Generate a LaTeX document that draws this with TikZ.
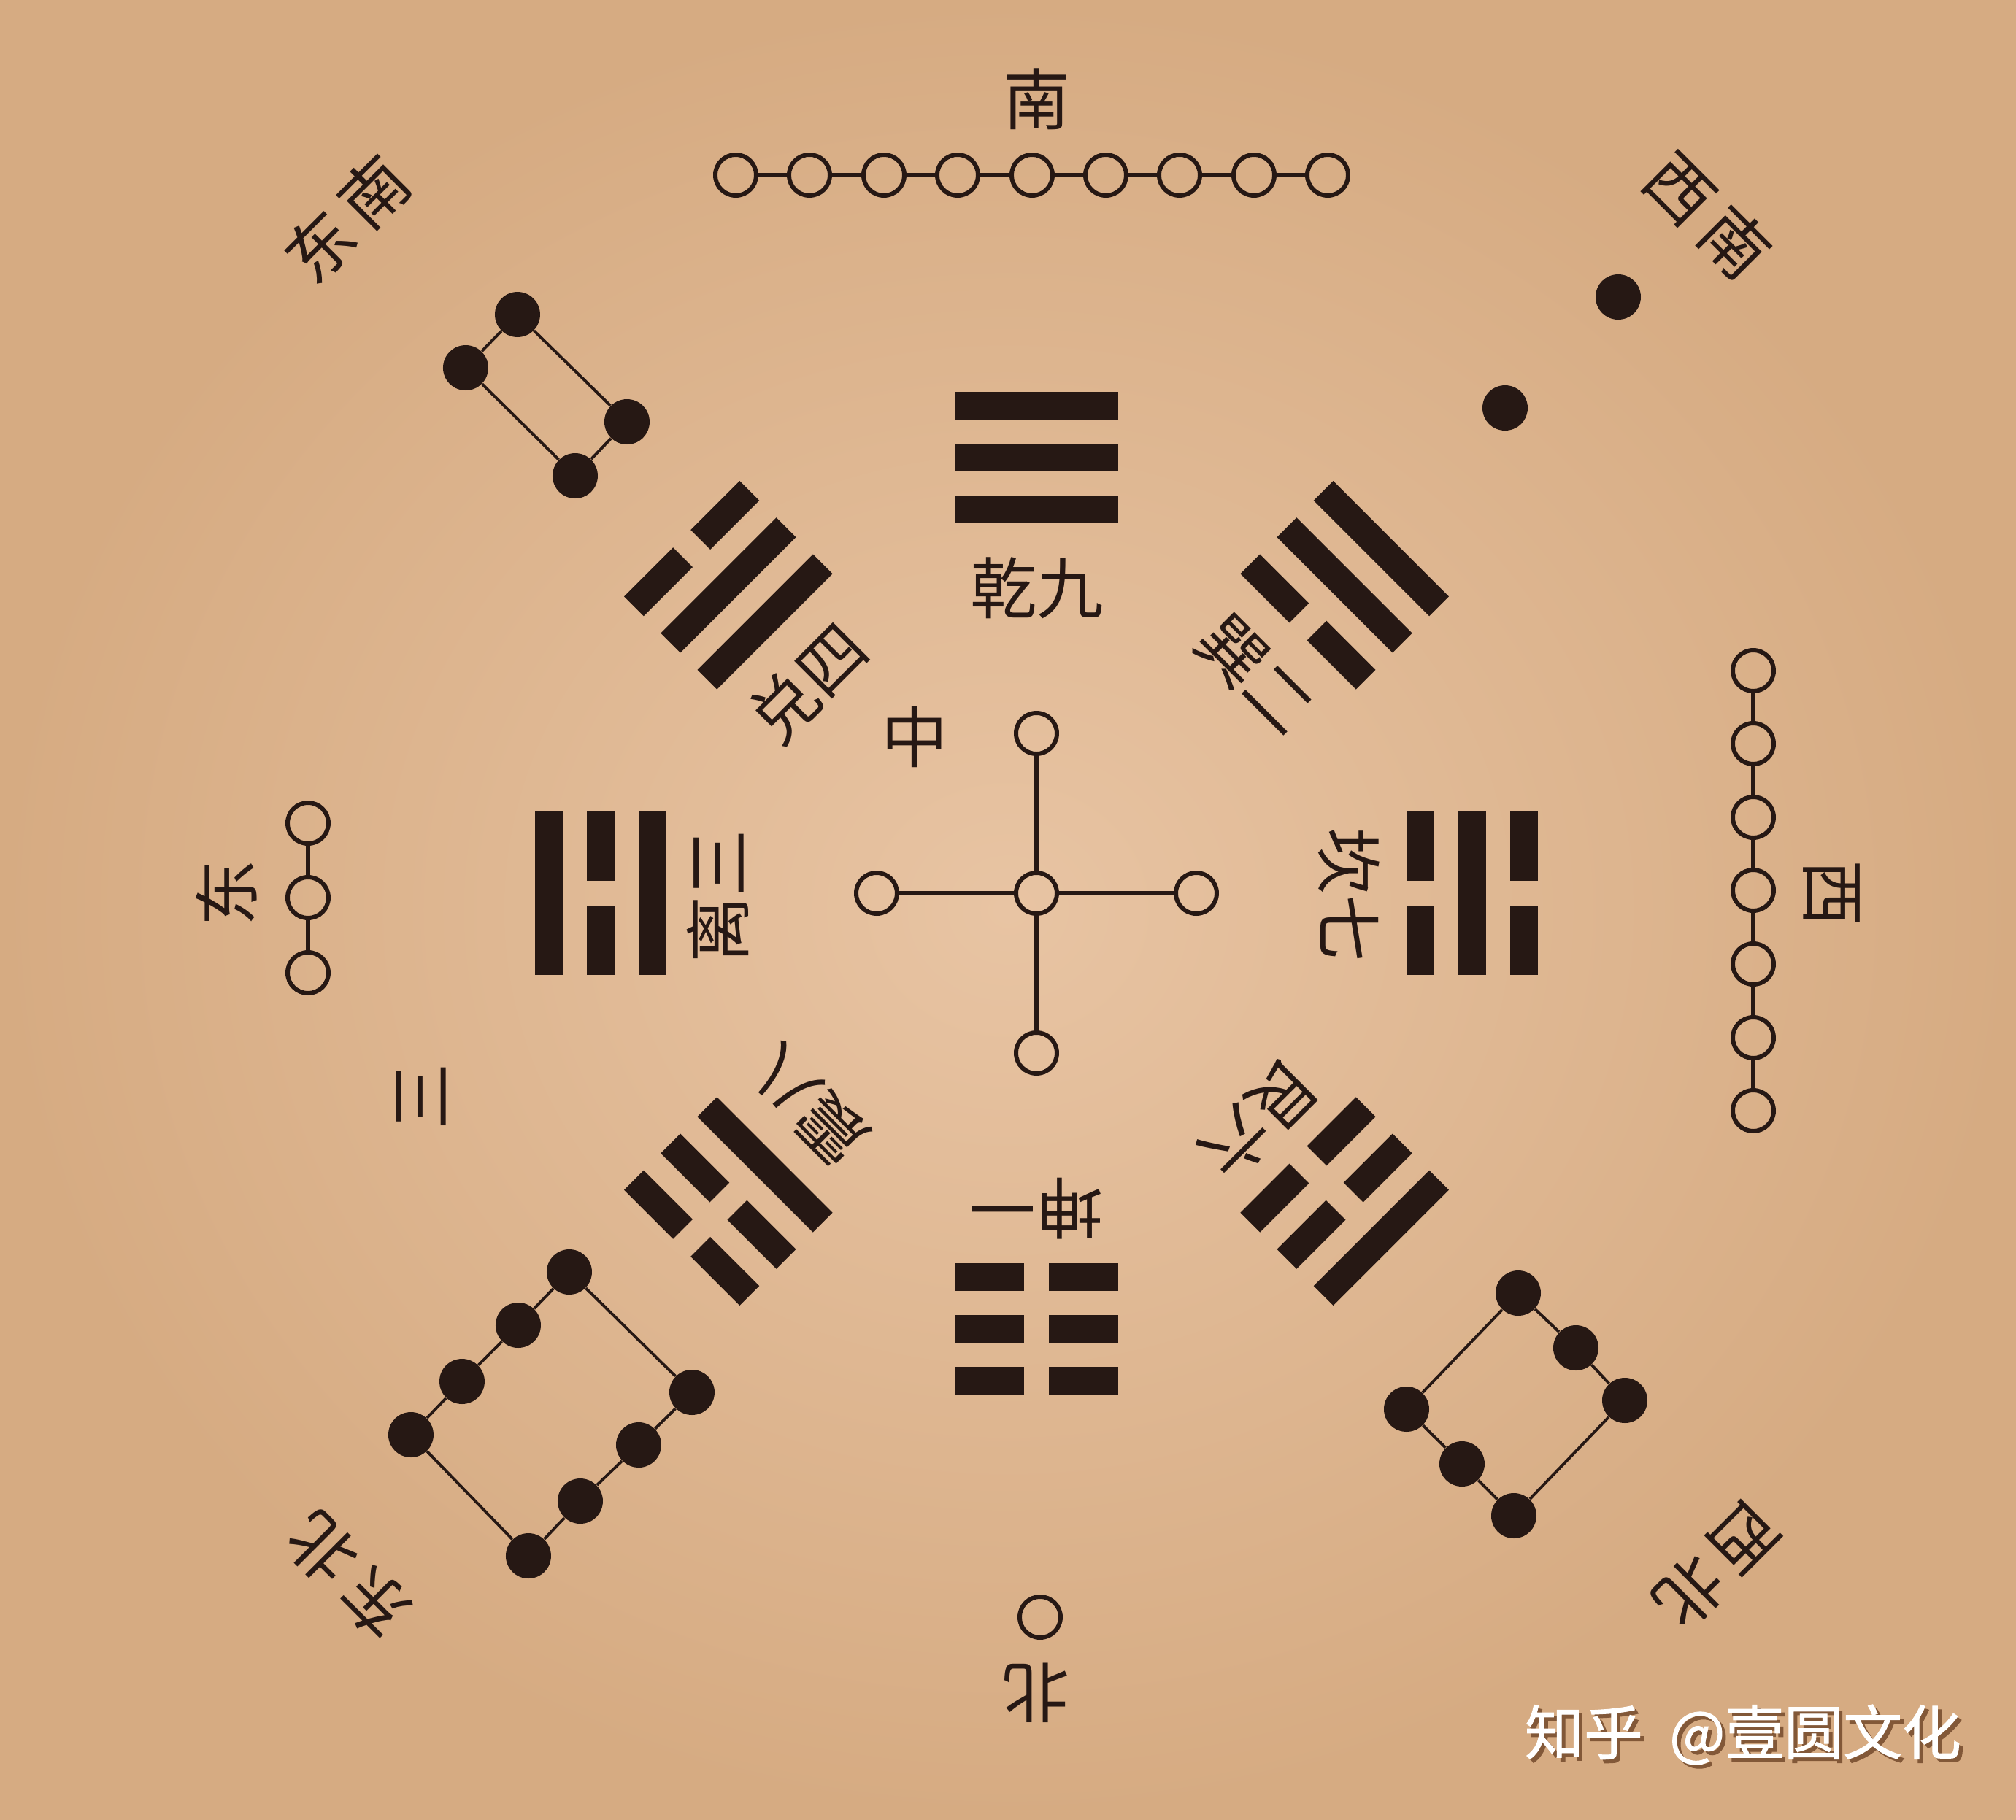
\documentclass[tikz,border=0pt]{standalone}
\usepackage{fontspec}
\newfontfamily\cjk{Noto Sans CJK SC}
\newfontfamily\wmfont[FakeBold=1.2]{Noto Sans CJK SC}
\definecolor{ink}{RGB}{38,24,20}
\definecolor{paper}{RGB}{232,196,163}
\definecolor{paperedge}{RGB}{214,171,130}
\definecolor{wmshade}{RGB}{130,88,56}
\tikzset{
  yang/.style={circle,draw=ink,line width=1.7pt,minimum size=5.6mm,inner sep=0pt},
  yin/.style={circle,fill=ink,minimum size=6.2mm,inner sep=0pt},
  link/.style={draw=ink,line width=1.5pt},
  rim/.style={draw=ink,line width=1.1pt},
  lbl/.style={font=\cjk\fontsize{26}{30}\selectfont,text=ink,inner sep=0pt},
  wmtext/.style={font=\wmfont\fontsize{23}{26}\selectfont,inner sep=0pt}
}
\begin{document}
\begin{tikzpicture}
\useasboundingbox (-14.20,-12.69) rectangle (13.42,12.24);
\shade[inner color=paper,outer color=paperedge] (-14.20,-12.69) rectangle (13.42,12.24);

% qian (south)
\fill[ink] (-1.12,6.49) rectangle (1.12,6.87);
\fill[ink] (-1.12,5.78) rectangle (1.12,6.16);
\fill[ink] (-1.12,5.07) rectangle (1.12,5.45);
% dui
\begin{scope}[rotate=45]
\fill[ink] (-1.12,6.49) rectangle (-0.17,6.87);
\fill[ink] (0.17,6.49) rectangle (1.12,6.87);
\fill[ink] (-1.12,5.78) rectangle (1.12,6.16);
\fill[ink] (-1.12,5.07) rectangle (1.12,5.45);
\end{scope}
% li (east)
\begin{scope}[rotate=90]
\fill[ink] (-1.12,6.49) rectangle (1.12,6.87);
\fill[ink] (-1.12,5.78) rectangle (-0.17,6.16);
\fill[ink] (0.17,5.78) rectangle (1.12,6.16);
\fill[ink] (-1.12,5.07) rectangle (1.12,5.45);
\end{scope}
% zhen
\begin{scope}[rotate=135]
\fill[ink] (-1.12,6.49) rectangle (-0.17,6.87);
\fill[ink] (0.17,6.49) rectangle (1.12,6.87);
\fill[ink] (-1.12,5.78) rectangle (-0.17,6.16);
\fill[ink] (0.17,5.78) rectangle (1.12,6.16);
\fill[ink] (-1.12,5.07) rectangle (1.12,5.45);
\end{scope}
% kun (north)
\begin{scope}[rotate=180]
\fill[ink] (-1.12,6.49) rectangle (-0.17,6.87);
\fill[ink] (0.17,6.49) rectangle (1.12,6.87);
\fill[ink] (-1.12,5.78) rectangle (-0.17,6.16);
\fill[ink] (0.17,5.78) rectangle (1.12,6.16);
\fill[ink] (-1.12,5.07) rectangle (-0.17,5.45);
\fill[ink] (0.17,5.07) rectangle (1.12,5.45);
\end{scope}
% gen
\begin{scope}[rotate=225]
\fill[ink] (-1.12,6.49) rectangle (1.12,6.87);
\fill[ink] (-1.12,5.78) rectangle (-0.17,6.16);
\fill[ink] (0.17,5.78) rectangle (1.12,6.16);
\fill[ink] (-1.12,5.07) rectangle (-0.17,5.45);
\fill[ink] (0.17,5.07) rectangle (1.12,5.45);
\end{scope}
% kan (west)
\begin{scope}[rotate=270]
\fill[ink] (-1.12,6.49) rectangle (-0.17,6.87);
\fill[ink] (0.17,6.49) rectangle (1.12,6.87);
\fill[ink] (-1.12,5.78) rectangle (1.12,6.16);
\fill[ink] (-1.12,5.07) rectangle (-0.17,5.45);
\fill[ink] (0.17,5.07) rectangle (1.12,5.45);
\end{scope}
% xun
\begin{scope}[rotate=315]
\fill[ink] (-1.12,6.49) rectangle (1.12,6.87);
\fill[ink] (-1.12,5.78) rectangle (1.12,6.16);
\fill[ink] (-1.12,5.07) rectangle (-0.17,5.45);
\fill[ink] (0.17,5.07) rectangle (1.12,5.45);
\end{scope}

% trigram names
\node[lbl] (qian) at (0.01,4.18) {乾九};
\node[lbl,rotate=45] (dui) at (-3.13,2.88) {兑四};
\node[lbl,rotate=90] (li) at (-4.37,-0.04) {离三};
\node[lbl,rotate=135] (zhen) at (-3.12,-2.90) {震八};
\node[lbl,rotate=180] (kun) at (0,-4.32) {坤一};
\node[lbl,rotate=-135] (gen) at (3.06,-3.10) {艮六};
\node[lbl,rotate=-90] (kan) at (4.28,-0.02) {坎七};
\node[lbl,rotate=-45] (xun) at (3.00,2.99) {巽二};

% centre five
\node[lbl] (zhong) at (-1.67,2.14) {中};
\node[yang] (c0) at (0,0) {};
\node[yang] (c1) at (0,2.19) {};
\node[yang] (c2) at (2.19,0) {};
\node[yang] (c3) at (0,-2.19) {};
\node[yang] (c4) at (-2.19,0) {};
\draw[link] (c0) -- (c1);
\draw[link] (c0) -- (c2);
\draw[link] (c0) -- (c3);
\draw[link] (c0) -- (c4);

% nine (south)
\node[yang] (s1) at (-4.12,9.84) {};
\node[yang] (s2) at (-3.11,9.84) {};
\node[yang] (s3) at (-2.09,9.84) {};
\node[yang] (s4) at (-1.08,9.84) {};
\node[yang] (s5) at (-0.06,9.84) {};
\node[yang] (s6) at (0.95,9.84) {};
\node[yang] (s7) at (1.96,9.84) {};
\node[yang] (s8) at (2.98,9.84) {};
\node[yang] (s9) at (3.99,9.84) {};
\draw[link] (s1) -- (s2) -- (s3) -- (s4) -- (s5) -- (s6) -- (s7) -- (s8) -- (s9);

% seven (west)
\node[yang] (w1) at (9.82,3.05) {};
\node[yang] (w2) at (9.82,2.05) {};
\node[yang] (w3) at (9.82,1.04) {};
\node[yang] (w4) at (9.82,0.04) {};
\node[yang] (w5) at (9.82,-0.97) {};
\node[yang] (w6) at (9.82,-1.98) {};
\node[yang] (w7) at (9.82,-2.98) {};
\draw[link] (w1) -- (w2) -- (w3) -- (w4) -- (w5) -- (w6) -- (w7);

% three (east)
\node[yang] (e1) at (-9.98,0.96) {};
\node[yang] (e2) at (-9.98,-0.06) {};
\node[yang] (e3) at (-9.98,-1.09) {};
\draw[link] (e1) -- (e2) -- (e3);

% one (north)
\node[yang] (n1) at (0.05,-9.92) {};

% two (southwest)
\node[yin] (sw1) at (7.97,8.17) {};
\node[yin] (sw2) at (6.42,6.65) {};

% four (southeast)
\node[yin] (se1) at (-7.11,7.93) {};
\node[yin] (se2) at (-7.82,7.20) {};
\node[yin] (se3) at (-6.32,5.72) {};
\node[yin] (se4) at (-5.61,6.46) {};
\draw[rim] (se1) -- (se2) -- (se3) -- (se4) -- (se1);

% eight (northeast)
\node[yin] (ne1) at (-6.40,-5.19) {};
\node[yin] (ne2) at (-7.10,-5.92) {};
\node[yin] (ne3) at (-7.87,-6.69) {};
\node[yin] (ne4) at (-8.57,-7.42) {};
\node[yin] (ne5) at (-6.96,-9.08) {};
\node[yin] (ne6) at (-6.25,-8.33) {};
\node[yin] (ne7) at (-5.45,-7.56) {};
\node[yin] (ne8) at (-4.72,-6.84) {};
\draw[rim] (ne1) -- (ne2) -- (ne3) -- (ne4) -- (ne5) -- (ne6) -- (ne7) -- (ne8) -- (ne1);

% six (northwest)
\node[yin] (nw1) at (6.60,-5.48) {};
\node[yin] (nw2) at (7.39,-6.23) {};
\node[yin] (nw3) at (8.06,-6.95) {};
\node[yin] (nw4) at (6.54,-8.53) {};
\node[yin] (nw5) at (5.83,-7.82) {};
\node[yin] (nw6) at (5.07,-7.07) {};
\draw[rim] (nw1) -- (nw2) -- (nw3) -- (nw4) -- (nw5) -- (nw6) -- (nw1);

% directions
\node[lbl] (south) at (0,10.88) {南};
\node[lbl,rotate=180] (north) at (0,-10.96) {北};
\node[lbl,rotate=90] (east) at (-11.10,0) {东};
\node[lbl,rotate=-90] (west) at (10.89,0) {西};
\node[lbl,rotate=45] (southeast) at (-9.45,9.24) {东\hspace{0.15em}南};
\node[lbl,rotate=-45] (southwest) at (9.20,9.29) {西\hspace{0.15em}南};
\node[lbl,rotate=135] (northeast) at (-9.43,-9.36) {东\hspace{0.15em}北};
\node[lbl,rotate=-135] (northwest) at (9.32,-9.21) {西\hspace{0.15em}北};
\node[lbl,rotate=90] (san) at (-8.43,-2.79) {三};

% watermark
\node[wmtext,text=wmshade] (wmback) at (9.73,-11.58) {知乎\hspace{0.45em}@壹圆文化};
\node[wmtext,text=white] (wm) at (9.68,-11.53) {知乎\hspace{0.45em}@壹圆文化};
\end{tikzpicture}
\end{document}
